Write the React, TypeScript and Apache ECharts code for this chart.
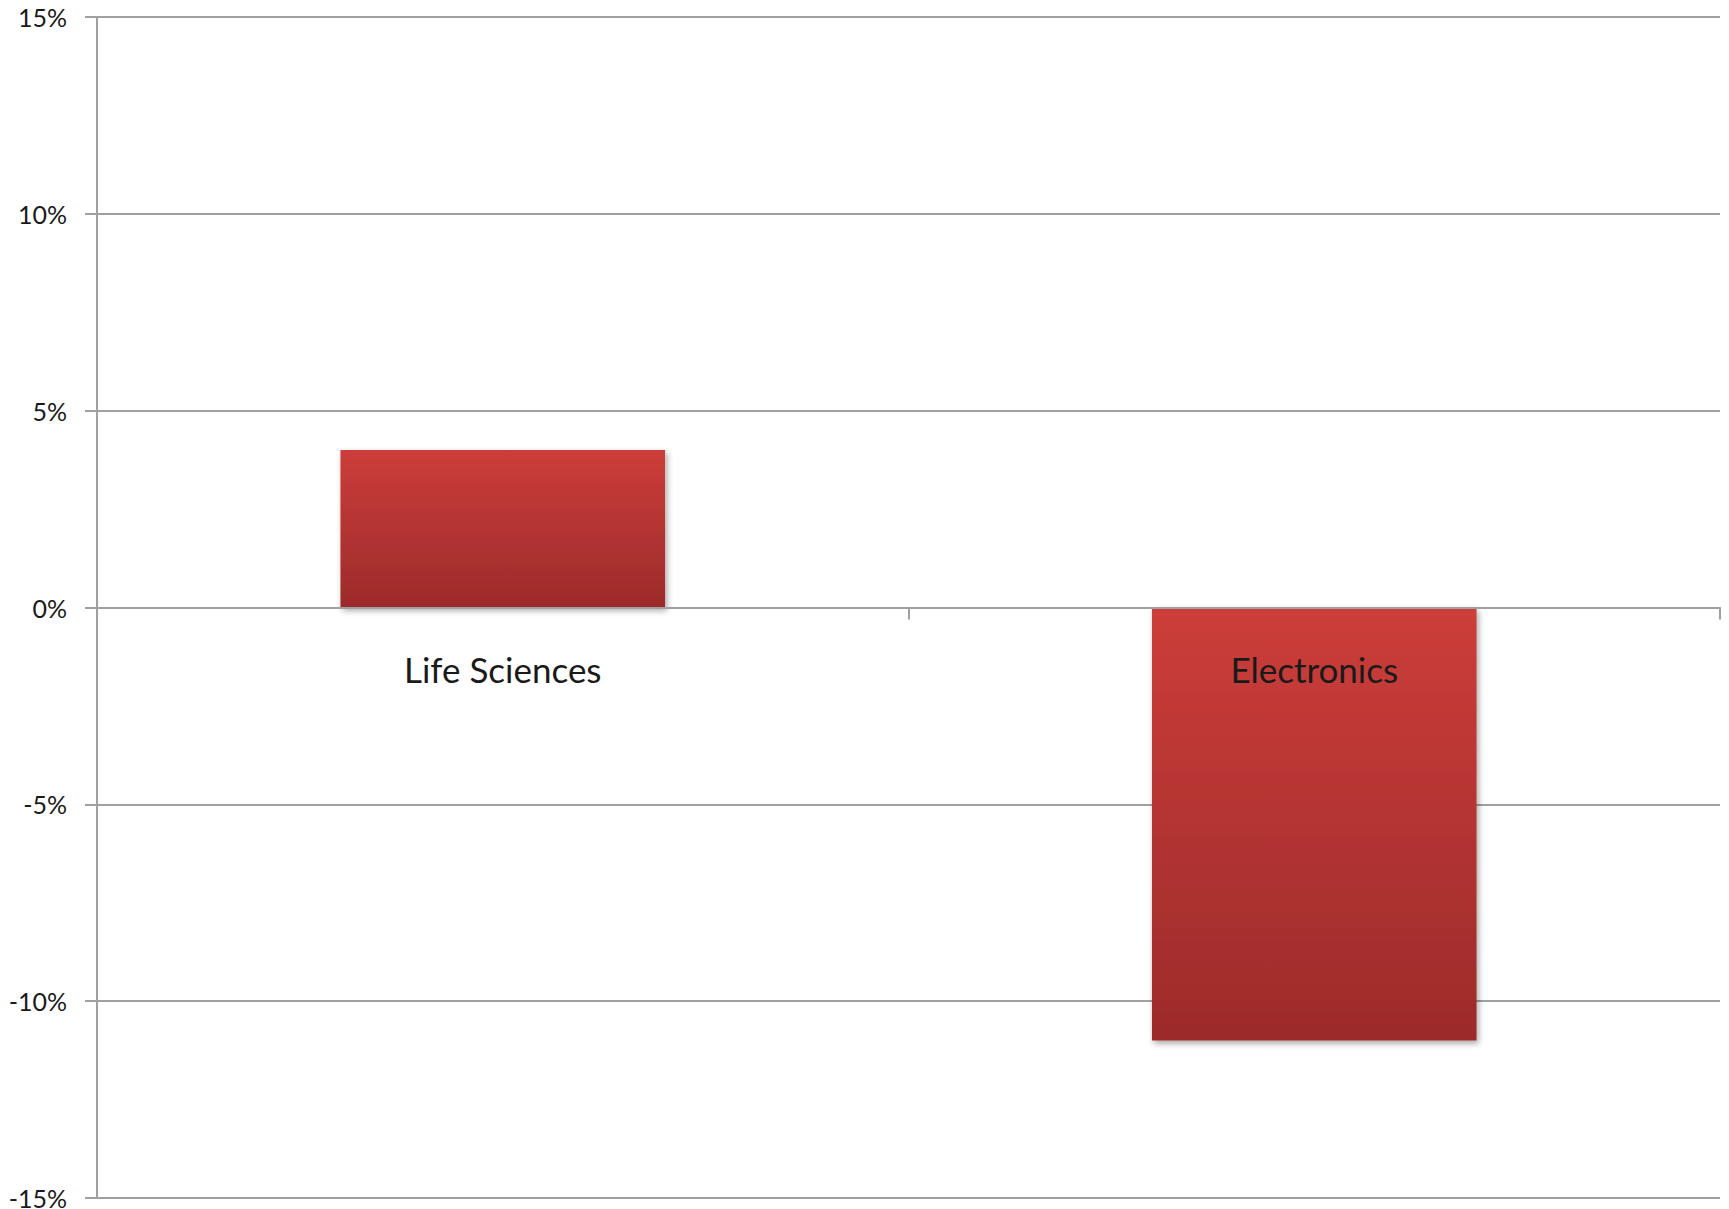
import React, { useEffect, useRef } from "react";
import * as echarts from "echarts";

const categories = ["Life Sciences", "Electronics"];
const values = [4, -11];
const yTicks = { min: -15, max: 15, interval: 5 };

const CHART_W = 1729;
const CHART_H = 1209;
const GRID = { left: 97, right: 9, top: 17, bottom: 11 };

export default function App() {
  const ref = useRef<HTMLDivElement>(null);
  useEffect(() => {
    if (!ref.current) return;
    const chart = echarts.init(ref.current, null, { renderer: "svg" });
    const gray = "#a0a0a0";
    const plotH = CHART_H - GRID.top - GRID.bottom;
    const zeroOffset = -plotH * ((0 - yTicks.min) / (yTicks.max - yTicks.min));
    chart.setOption({
      animation: false,
      backgroundColor: "#ffffff",
      grid: { ...GRID, containLabel: false, outerBoundsMode: "none" },
      xAxis: {
        type: "category",
        data: categories,
        position: "bottom",
        offset: zeroOffset,
        z: 10,
        axisLine: { show: true, onZero: false, lineStyle: { color: gray, width: 2 } },
        axisTick: { show: true, alignWithLabel: false, length: 12, lineStyle: { color: gray, width: 2 } },
        axisLabel: {
          margin: 44,
          fontFamily: "Lato",
          fontSize: 35,
          color: "#1a1a1a",
        },
        splitLine: { show: false },
      },
      yAxis: {
        type: "value",
        min: yTicks.min,
        max: yTicks.max,
        interval: yTicks.interval,
        axisLine: { show: true, lineStyle: { color: gray, width: 2 } },
        axisTick: { show: true, length: 12, lineStyle: { color: gray, width: 2 } },
        axisLabel: {
          margin: 30,
          fontFamily: "Lato",
          fontSize: 25,
          color: "#1a1a1a",
          formatter: (v: number) => `${v}%`,
        },
        splitLine: { show: true, lineStyle: { color: gray, width: 2 } },
      },
      series: [
        {
          type: "bar",
          data: values,
          barWidth: "40%",
          itemStyle: {
            color: new echarts.graphic.LinearGradient(0, 0, 0, 1, [
              { offset: 0, color: "#cc3d3a" },
              { offset: 1, color: "#9c2b2a" },
            ]),
            shadowBlur: 6,
            shadowColor: "rgba(0,0,0,0.35)",
            shadowOffsetX: 2,
            shadowOffsetY: 3,
          },
        },
      ],
    });
    return () => chart.dispose();
  }, []);
  return (
    <div
      ref={ref}
      style={{ position: "fixed", left: 0, top: 0, width: CHART_W, height: CHART_H }}
    />
  );
}
